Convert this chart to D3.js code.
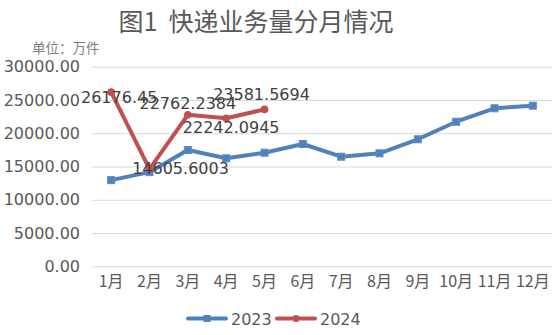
<!DOCTYPE html>
<html><head><meta charset="utf-8">
<script src="https://cdn.jsdelivr.net/npm/d3@7/dist/d3.min.js"></script>
<style>
html,body{margin:0;padding:0;background:#fff;}
svg{display:block;}
</style></head>
<body><svg id="c" width="553" height="335"></svg>
<script>
const months = ["1月","2月","3月","4月","5月","6月","7月","8月","9月","10月","11月","12月"];
const values2023 = [12950, 14150, 17480, 16230, 17070, 18380, 16470, 16980, 19090, 21730, 23750, 24140];
const values2024 = [26176.45, 14605.6003, 22762.2384, 22242.0945, 23581.5694];
const labels2024 = ["26176.45", "14605.6003", "22762.2384", "22242.0945", "23581.5694"];
const yTicks = [0, 5000, 10000, 15000, 20000, 25000, 30000];
const seriesNames = ["2023", "2024"];

// label placement (layout only)
const labelOffsets = [[8, 11], [31, 5], [0, -6], [5, 15], [-3, -9]];

const svg = d3.select("#c");
const x = d3.scaleBand().domain(months).range([92, 552]).padding(0);
const y = d3.scaleLinear().domain([0, 30000]).range([266.3, 66.7]);
const cx = d => x(d) + x.bandwidth() / 2;

const blue = "#4F81BD", red = "#C0504D";
const font = "'DejaVu Sans', sans-serif";
const cjk = "'Noto Sans CJK SC', sans-serif";

// Title
svg.append("text").attr("x", 256).attr("y", 31).attr("text-anchor", "middle")
  .attr("font-family", cjk).attr("font-size", 25).attr("fill", "#595959")
  .style("white-space", "pre").attr("xml:space", "preserve")
  .text("图1  快递业务量分月情况");
svg.append("text").attr("x", 32).attr("y", 53)
  .attr("font-family", cjk).attr("font-size", 13.5).attr("fill", "#7f7f7f")
  .text("单位：万件");

// grid + y axis
const yAxis = d3.axisLeft(y).tickValues(yTicks).tickFormat(d3.format(".2f"))
  .tickSize(-460).tickPadding(12);
const gy = svg.append("g").attr("transform", "translate(92,0)").call(yAxis);
gy.select(".domain").remove();
gy.selectAll(".tick line").attr("stroke", "#d9d9d9").attr("stroke-width", 1);
gy.selectAll(".tick text").attr("font-family", font).attr("font-size", 16)
  .attr("fill", "#595959").attr("x", -12);

// x axis labels
const xAxis = d3.axisBottom(x).tickSize(0).tickPadding(12);
const gx = svg.append("g").attr("transform", "translate(0,266.3)").call(xAxis);
gx.select(".domain").remove();
gx.selectAll(".tick text").attr("font-family", cjk).attr("font-size", 16)
  .attr("fill", "#595959").attr("dy", "0.55em");

const line = d3.line().x((d, i) => cx(months[i])).y(d => y(d));

// 2023
svg.append("path").datum(values2023).attr("d", line).attr("fill", "none")
  .attr("stroke", blue).attr("stroke-width", 4).attr("stroke-linejoin", "round").attr("stroke-linecap", "round");
svg.selectAll(".m23").data(values2023).enter().append("rect")
  .attr("x", (d, i) => cx(months[i]) - 3.5).attr("y", d => y(d) - 3.5)
  .attr("width", 7).attr("height", 7).attr("fill", blue).attr("stroke", "#5b8cc6").attr("stroke-width", 1);

// 2024
svg.append("path").datum(values2024).attr("d", line).attr("fill", "none")
  .attr("stroke", red).attr("stroke-width", 4).attr("stroke-linejoin", "round").attr("stroke-linecap", "round");
svg.selectAll(".m24").data(values2024).enter().append("circle")
  .attr("cx", (d, i) => cx(months[i])).attr("cy", d => y(d)).attr("r", 3.8).attr("fill", red);

// data labels
svg.selectAll(".lbl").data(values2024).enter().append("text")
  .attr("x", (d, i) => cx(months[i]) + labelOffsets[i][0])
  .attr("y", (d, i) => y(d) + labelOffsets[i][1])
  .attr("text-anchor", "middle").attr("font-family", font).attr("font-size", 16)
  .attr("fill", "#404040").text((d, i) => labels2024[i]);

// legend
const leg = [
  {name: seriesNames[0], color: blue, x0: 188, sq: true},
  {name: seriesNames[1], color: red, x0: 277, sq: false}
];
leg.forEach(l => {
  svg.append("line").attr("x1", l.x0).attr("x2", l.x0 + 38).attr("y1", 318.5).attr("y2", 318.5)
    .attr("stroke", l.color).attr("stroke-width", 4).attr("stroke-linecap", "round");
  if (l.sq) svg.append("rect").attr("x", l.x0 + 19 - 3.5).attr("y", 315).attr("width", 7).attr("height", 7).attr("fill", l.color);
  else svg.append("circle").attr("cx", l.x0 + 19).attr("cy", 318.5).attr("r", 3.5).attr("fill", l.color);
  svg.append("text").attr("x", l.x0 + 43).attr("y", 324.5).attr("font-family", font).attr("font-size", 16)
    .attr("fill", "#595959").text(l.name);
});
</script></body></html>
